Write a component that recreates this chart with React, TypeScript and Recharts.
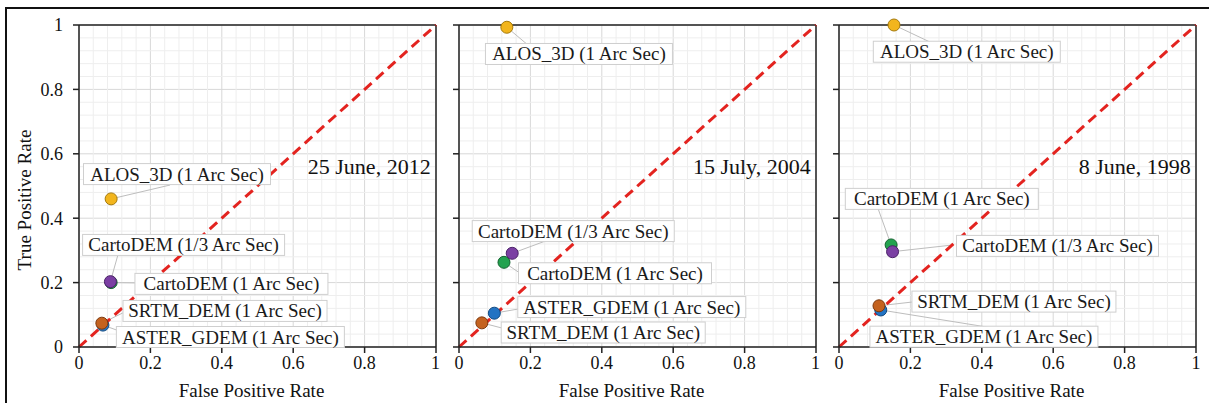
import React from 'react';
import {
  ScatterChart,
  Scatter,
  XAxis,
  YAxis,
  CartesianGrid,
  ReferenceLine,
  ReferenceDot,
} from 'recharts';

const SERIF = 'Liberation Serif, Times New Roman, serif';

const SERIES_NAMES = [
  'ALOS_3D (1 Arc Sec)',
  'CartoDEM (1/3 Arc Sec)',
  'CartoDEM (1 Arc Sec)',
  'SRTM_DEM (1 Arc Sec)',
  'ASTER_GDEM (1 Arc Sec)',
];
const PANEL_DATES = ['25 June, 2012', '15 July, 2004', '8 June, 1998'];

// FPR / TPR per DEM, same order as SERIES_NAMES
const FPR_2012 = [0.09, 0.088, 0.09, 0.064, 0.067];
const TPR_2012 = [0.46, 0.203, 0.2, 0.074, 0.068];
const FPR_2004 = [0.134, 0.149, 0.126, 0.064, 0.099];
const TPR_2004 = [0.993, 0.291, 0.263, 0.075, 0.105];
const FPR_1998 = [0.154, 0.15, 0.146, 0.112, 0.117];
const TPR_1998 = [1.0, 0.296, 0.317, 0.128, 0.115];

const AXIS_TICKS = [0, 0.2, 0.4, 0.6, 0.8, 1];
const MINOR_TICKS = [
  0.04, 0.08, 0.12, 0.16, 0.24, 0.28, 0.32, 0.36, 0.44, 0.48,
  0.52, 0.56, 0.64, 0.68, 0.72, 0.76, 0.84, 0.88, 0.92, 0.96,
];

// label box centre (x, y) and leader end (x, y), in axis units
const LABELS_2012 = [
  [0.2745, 0.537, 0.255, 0.503],
  [0.293, 0.317, 0.109, 0.286],
  [0.427, 0.196, 0.157, 0.199],
  [0.409, 0.112, 0.123, 0.106],
  [0.424, 0.031, 0.112, 0.05],
];
const LABELS_2004 = [
  [0.336, 0.91, 0.193, 0.938],
  [0.32, 0.36, 0.249, 0.332],
  [0.437, 0.229, 0.166, 0.233],
  [0.404, 0.045, 0.12, 0.059],
  [0.484, 0.124, 0.166, 0.118],
];
const LABELS_1998 = [
  [0.358, 0.917, 0.255, 0.947],
  [0.612, 0.314, 0.32, 0.317],
  [0.288, 0.46, 0.109, 0.431],
  [0.49, 0.141, 0.208, 0.14],
  [0.406, 0.032, 0.431, 0.059],
];

const COLORS = ['#f2b51d', '#7b3fa3', '#23a24f', '#c4621f', '#2273c3'];
const EDGES = ['#a57a0c', '#4b2268', '#12622e', '#7d3a0f', '#134a80'];
const BOX_W = [187, 202, 193, 204, 228];
const DRAW_ORDER = [2, 1, 4, 3, 0];

const PANELS = [
  { date: PANEL_DATES[0], fpr: FPR_2012, tpr: TPR_2012, labels: LABELS_2012, left: 0, width: 440, ml: 19, mr: 4, yw: 60, showY: true },
  { date: PANEL_DATES[1], fpr: FPR_2004, tpr: TPR_2004, labels: LABELS_2004, left: 440, width: 380, ml: 9, mr: 4, yw: 10, showY: false },
  { date: PANEL_DATES[2], fpr: FPR_1998, tpr: TPR_1998, labels: LABELS_1998, left: 820, width: 389, ml: 9, mr: 13, yw: 10, showY: false },
];

const tickStyle = { fontSize: 18, fill: '#111', style: { fontFamily: SERIF } };

const labelBox = (name: string, w: number) => (props: any) => {
  const { cx, cy } = props;
  return (
    <g>
      <rect x={cx - w / 2} y={cy - 10.5} width={w} height={21} fill="#fff" stroke="#cfcfcf" />
      <text x={cx} y={cy + 6.5} textAnchor="middle" fontSize={19} style={{ fontFamily: SERIF }} fill="#1a1a1a">
        {name}
      </text>
    </g>
  );
};

const dateText = (txt: string) => (props: any) => (
  <text x={props.cx} y={props.cy + 7} textAnchor="end" fontSize={22} style={{ fontFamily: SERIF }} fill="#111">
    {txt}
  </text>
);

const dot = (i: number) => (props: any) => (
  <circle cx={props.cx} cy={props.cy} r={6} fill={COLORS[i]} stroke={EDGES[i]} strokeWidth={1} />
);

function Panel({ p }: { p: (typeof PANELS)[number] }) {
  return (
    <div style={{ position: 'absolute', left: p.left, top: 0, fontFamily: SERIF }}>
      <ScatterChart
        width={p.width}
        height={403}
        margin={{ top: 25, right: p.mr, bottom: 0, left: p.ml }}
        style={{ fontFamily: SERIF }}
      >
        {MINOR_TICKS.map((v) => (
          <ReferenceLine key={'mx' + v} x={v} stroke="#eeeeee" strokeWidth={1} />
        ))}
        {MINOR_TICKS.map((v) => (
          <ReferenceLine key={'my' + v} y={v} stroke="#eeeeee" strokeWidth={1} />
        ))}
        <CartesianGrid stroke="#d8d8d8" strokeWidth={1} />
        <XAxis
          type="number"
          dataKey="x"
          domain={[0, 1]}
          ticks={AXIS_TICKS}
          height={56}
          tickSize={6}
          tickMargin={3}
          tick={tickStyle}
          axisLine={{ stroke: '#222', strokeWidth: 1.5 }}
          tickLine={{ stroke: '#222', strokeWidth: 1.5 }}
          label={{
            value: 'False Positive Rate',
            position: 'insideBottom',
            offset: 6,
            dx: -6,
            fontSize: 19,
            fill: '#111',
            style: { fontFamily: SERIF },
          }}
        />
        <YAxis
          type="number"
          dataKey="y"
          domain={[0, 1]}
          ticks={AXIS_TICKS}
          width={p.yw}
          tickSize={6}
          tickMargin={10}
          tick={tickStyle}
          tickFormatter={(v: number) => (p.showY ? String(v) : '')}
          axisLine={{ stroke: '#222', strokeWidth: 1.5 }}
          tickLine={{ stroke: '#222', strokeWidth: 1.5 }}
        />
        <ReferenceLine y={1} stroke="#222" strokeWidth={1.5} />
        <ReferenceLine x={1} stroke="#222" strokeWidth={1.5} />
        {p.labels.map((l, i) => (
          <ReferenceLine
            key={'lead' + i}
            segment={[{ x: p.fpr[i], y: p.tpr[i] }, { x: l[2], y: l[3] }]}
            stroke="#bdbdbd"
            strokeWidth={1}
          />
        ))}
        {p.labels.map((l, i) => (
          <ReferenceDot key={'lab' + i} x={l[0]} y={l[1]} r={0} shape={labelBox(SERIES_NAMES[i], BOX_W[i])} />
        ))}
        <ReferenceLine
          segment={[{ x: 0, y: 0 }, { x: 1, y: 1 }]}
          stroke="#e3231f"
          strokeWidth={3}
          strokeDasharray="10 6"
        />
        <ReferenceDot x={0.985} y={0.56} r={0} shape={dateText(p.date)} />
        {DRAW_ORDER.map((i) => (
          <Scatter
            key={SERIES_NAMES[i]}
            name={SERIES_NAMES[i]}
            data={[{ x: p.fpr[i], y: p.tpr[i] }]}
            fill={COLORS[i]}
            shape={dot(i)}
            isAnimationActive={false}
          />
        ))}
      </ScatterChart>
    </div>
  );
}

export default function App() {
  return (
    <div
      style={{
        position: 'absolute',
        left: 0,
        top: 0,
        width: 1209,
        height: 403,
        background: '#fff',
        overflow: 'hidden',
        fontFamily: SERIF,
      }}
    >
      <div
        style={{
          position: 'absolute',
          left: 5,
          top: 7,
          width: 1210,
          height: 400,
          borderLeft: '2px solid #111',
          borderTop: '2px solid #111',
        }}
      />
      {PANELS.map((p) => (
        <Panel key={p.date} p={p} />
      ))}
      <div
        style={{
          position: 'absolute',
          left: 25,
          top: 200,
          transform: 'translate(-50%, -50%) rotate(-90deg)',
          whiteSpace: 'nowrap',
          fontSize: 19,
          color: '#111',
        }}
      >
        True Positive Rate
      </div>
    </div>
  );
}
